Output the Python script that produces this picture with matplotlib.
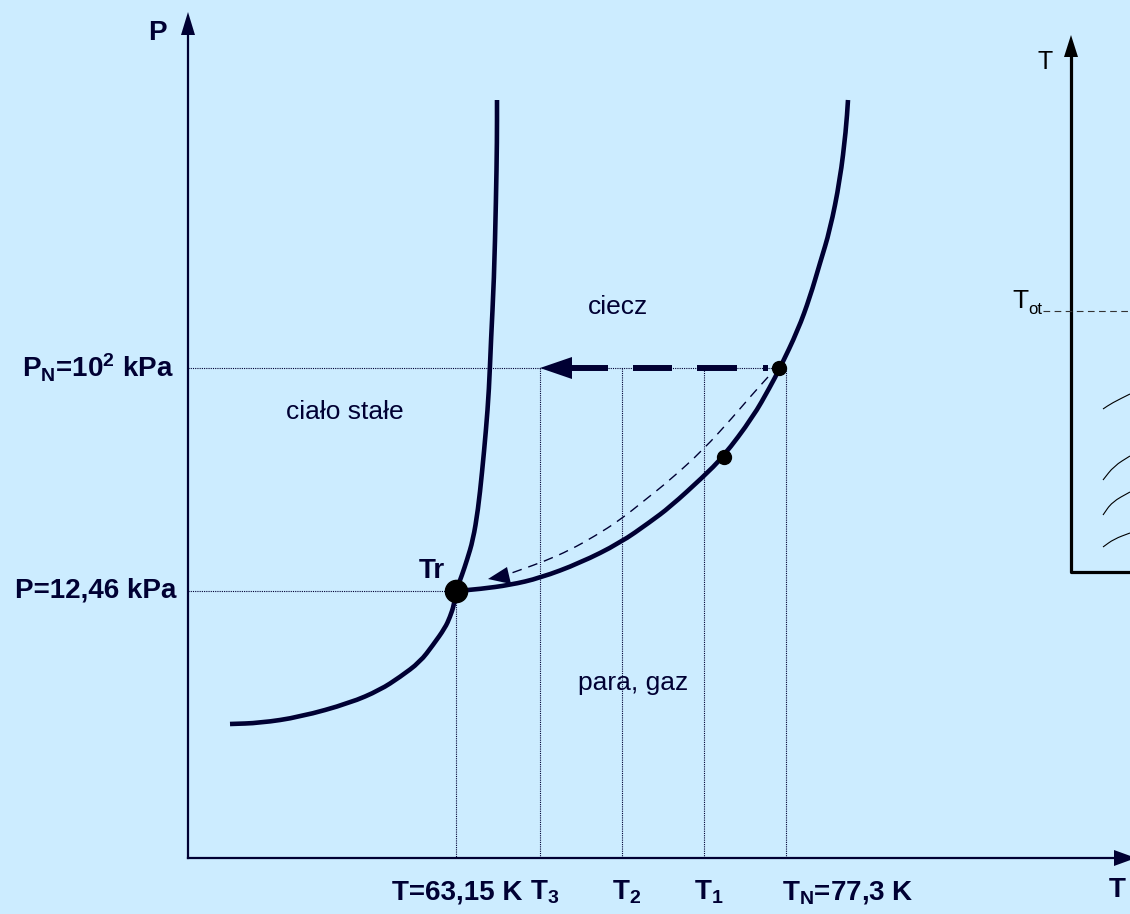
import numpy as np
import matplotlib
matplotlib.use("Agg")
import matplotlib.pyplot as plt
from matplotlib.path import Path
from matplotlib.patches import PathPatch

# schematic phase diagram (coordinates in picture units, y grows downwards)
plt.rcParams['font.family'] = ['Liberation Sans', 'DejaVu Sans']
plt.rcParams['mathtext.fontset'] = 'custom'
plt.rcParams['mathtext.rm'] = 'Liberation Sans:bold'
plt.rcParams['mathtext.default'] = 'rm'

BG = '#CCECFF'
INK = '#000033'

# phase boundary curves
subl_x = [230, 260, 300, 350, 380, 400, 420, 433, 445, 450, 454, 456]
subl_y = [724, 723, 717, 703, 690, 677, 662, 645, 628, 617, 605, 591]
melt_x = [456, 462, 467, 473, 478, 482, 486, 489, 491, 494, 496, 497, 497]
melt_y = [591, 575, 560, 540, 510, 473, 430, 390, 340, 280, 200, 140, 100]
vap_x = [456, 480, 510, 540, 580, 620, 650, 670, 703, 723, 753, 770, 780, 798, 810, 820, 830, 840, 846, 848]
vap_y = [591, 589, 585, 578, 563, 543, 522, 507, 477, 457, 417, 387, 368, 330, 297, 263, 230, 180, 130, 100]

# cooling path (thin dashed)
path_x = [768, 750, 733, 703, 670, 645, 620, 595, 570, 545, 520, 506]
path_y = [377, 397, 417, 450, 480, 500, 520, 536, 550, 561, 570, 575]

# reference levels
tr_pt = (456, 591)
pn_y = 368
p_tr_y = 591
t_lines = [540, 622, 704, 786]        # T3, T2, T1, TN
dots_x = [779, 724]
dots_y = [368, 457]
thick_dashes = [(763, 768), (697, 737), (633, 672), (570, 608)]

axis_x0, axis_y0 = 188, 858


def smooth(xs, ys, **kw):
    # quadratic bezier through the midpoints, read points act as controls
    p = np.column_stack([xs, ys]).astype(float)
    verts = [p[0], (p[0] + p[1]) / 2]
    codes = [Path.MOVETO, Path.LINETO]
    for i in range(1, len(p) - 1):
        verts += [p[i], (p[i] + p[i + 1]) / 2]
        codes += [Path.CURVE3, Path.CURVE3]
    verts.append(p[-1])
    codes.append(Path.LINETO)
    ax.add_patch(PathPatch(Path(verts, codes), fill=False, **kw))


fig = plt.figure(figsize=(11.3, 9.14), dpi=100, facecolor=BG)
ax = fig.add_axes([0, 0, 1, 1])
ax.set_xlim(0, 1130)
ax.set_ylim(914, 0)
ax.axis('off')
ax.set_facecolor(BG)

# axes with arrows
ax.plot([axis_x0, axis_x0], [axis_y0, 34], color=INK, lw=1.6)
ax.fill([axis_x0 - 7, axis_x0 + 7, axis_x0], [35, 35, 12], color=INK, lw=0)
ax.plot([axis_x0, 1114], [axis_y0, axis_y0], color=INK, lw=1.6)
ax.fill([1114, 1114, 1136], [axis_y0 - 8, axis_y0 + 8, axis_y0], color=INK, lw=0)

# dotted guide lines
dot = dict(color=INK, lw=0.8, ls=(0, (1, 1)))
ax.plot([axis_x0, 780], [pn_y, pn_y], **dot)
ax.plot([axis_x0, tr_pt[0]], [p_tr_y, p_tr_y], **dot)
ax.plot([tr_pt[0], tr_pt[0]], [p_tr_y, axis_y0], **dot)
for x in t_lines:
    ax.plot([x, x], [pn_y, axis_y0], **dot)

# curves
for xs, ys in [(subl_x, subl_y), (melt_x, melt_y), (vap_x, vap_y)]:
    smooth(xs, ys, edgecolor=INK, lw=3.3, capstyle='butt', joinstyle='round')

# thin dashed path with head
smooth(path_x, path_y, edgecolor=INK, lw=1.0, linestyle=(0, (7, 5)))
ax.fill([488, 507, 511], [579, 567, 584], color=INK, lw=0)

# thick dashed arrow
for a, b in thick_dashes:
    ax.plot([a, b], [pn_y, pn_y], color=INK, lw=4.3, solid_capstyle='butt')
ax.fill([572, 572, 540], [pn_y - 11, pn_y + 11, pn_y], color=INK, lw=0)

# points
ax.plot(dots_x, dots_y, 'o', color='black', ms=10, mec='black')
ax.plot([tr_pt[0]], [tr_pt[1]], 'o', color='black', ms=16)

# labels
bold = dict(color=INK, fontsize=20, fontweight='bold')
ax.text(157, 33, 'P', ha='center', va='center', **bold)
ax.text(1117, 890, 'T', ha='center', va='center', **bold)
ax.text(432, 571, 'Tr', ha='center', va='center', **bold)
ax.text(174, 368, r'$\mathrm{P_N}$=10$^\mathrm{2}$ kPa', ha='right', va='center', **bold)
ax.text(176, 591, 'P=12,46 kPa', ha='right', va='center', **bold)
ax.text(457, 892, 'T=63,15 K', ha='center', va='center', **bold)
for x, s in zip(t_lines[:3], ['3', '2', '1']):
    ax.text(x - 10, 892, r'T$_\mathrm{%s}$' % s, ha='left', va='center', **bold)
ax.text(782, 892, r'T$_\mathrm{N}$=77,3 K', ha='left', va='center', **bold)

reg = dict(color=INK, fontsize=19)
ax.text(618, 307, 'ciecz', ha='center', va='center', **reg)
ax.text(345, 412, 'ciało stałe', ha='center', va='center', **reg)
ax.text(633, 683, 'para, gaz', ha='center', va='center', **reg)

# second diagram (cut off at the right edge)
ax.plot([1071, 1071, 1135], [56, 572, 572], color='black', lw=2.3)
ax.fill([1064, 1078, 1071], [57, 57, 35], color='black', lw=0)
ax.text(1045, 62, 'T', ha='center', va='center', color='black', fontsize=18)
ax.text(1020, 301, 'T', ha='center', va='center', color='black', fontsize=19)
ax.text(1028, 314, 'ot', ha='left', va='baseline', color='black', fontsize=12)
ax.plot([1043, 1130], [311, 311], color='#333333', lw=0.8, dashes=(6, 4))
arcs = [([1103, 1112, 1130], [409, 403, 394]),
        ([1103, 1114, 1130], [480, 466, 456]),
        ([1103, 1112, 1130], [515, 502, 492]),
        ([1103, 1114, 1130], [547, 539, 533])]
for xs, ys in arcs:
    smooth(xs, ys, edgecolor='black', lw=0.8)

fig.savefig('out.png', dpi=100, facecolor=BG)
